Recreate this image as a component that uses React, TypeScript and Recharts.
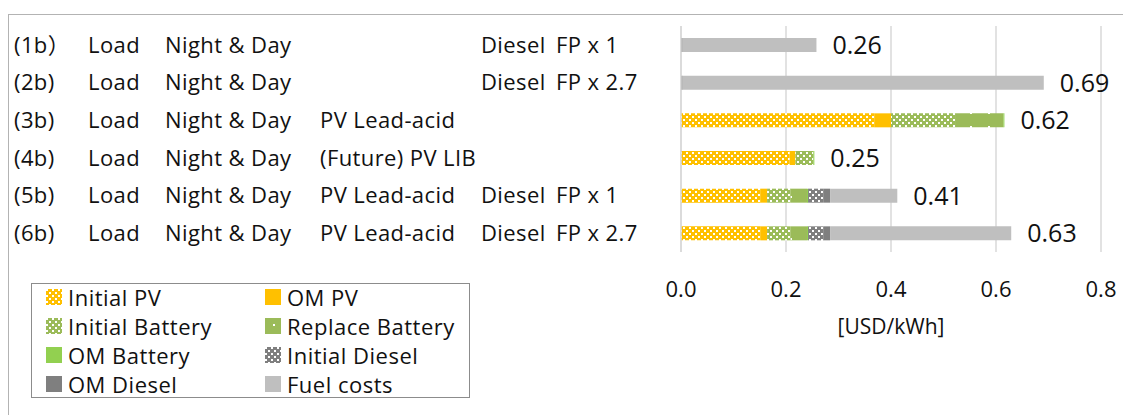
import { Bar, BarChart, CartesianGrid, Label, LabelList, XAxis, YAxis } from "recharts";

// row labels, one array per label column
const caseIds = ["(1b）", "(2b)", "(3b)", "(4b)", "(5b)", "(6b)"];
const loadLabels = ["Load", "Load", "Load", "Load", "Load", "Load"];
const periodLabels = ["Night & Day", "Night & Day", "Night & Day", "Night & Day", "Night & Day", "Night & Day"];
const systemLabels = ["", "", "PV Lead-acid", "(Future) PV LIB", "PV Lead-acid", "PV Lead-acid"];
const generatorLabels = ["Diesel", "Diesel", "", "", "Diesel", "Diesel"];
const fuelPriceLabels = ["FP x 1", "FP x 2.7", "", "", "FP x 1", "FP x 2.7"];

// cost components [USD/kWh]
const initialPV = [0, 0, 0.368, 0.207, 0.152, 0.152];
const omPV = [0, 0, 0.032, 0.011, 0.012, 0.012];
const initialBattery = [0, 0, 0.122, 0.034, 0.045, 0.045];
const replaceBattery = [0, 0, 0.092, 0, 0.031, 0.031];
const omBattery = [0, 0, 0.002, 0.002, 0.002, 0.002];
const initialDiesel = [0, 0, 0, 0, 0.03, 0.03];
const omDiesel = [0.003, 0.003, 0, 0, 0.012, 0.012];
const fuelCosts = [0.255, 0.688, 0, 0, 0.128, 0.345];

const xTicks = [0, 0.2, 0.4, 0.6, 0.8];

const series = [
  { key: "initialPV", name: "Initial PV", fill: "url(#pat-pv)", values: initialPV },
  { key: "omPV", name: "OM PV", fill: "#FFC000", values: omPV },
  { key: "initialBattery", name: "Initial Battery", fill: "url(#pat-bat)", values: initialBattery },
  { key: "replaceBattery", name: "Replace Battery", fill: "url(#pat-rep)", values: replaceBattery },
  { key: "omBattery", name: "OM Battery", fill: "#92D050", values: omBattery },
  { key: "initialDiesel", name: "Initial Diesel", fill: "url(#pat-dsl)", values: initialDiesel },
  { key: "omDiesel", name: "OM Diesel", fill: "#7F7F7F", values: omDiesel },
  { key: "fuelCosts", name: "Fuel costs", fill: "#BFBFBF", values: fuelCosts },
];

const rows = caseIds.map((id, i) => {
  const row: Record<string, any> = { id };
  let total = 0;
  let last = "";
  series.forEach((s) => {
    row[s.key] = s.values[i];
    total += s.values[i];
    if (s.values[i] > 0) last = s.key;
  });
  row.total = total;
  row.lastKey = last;
  return row;
});

const FONT = "'Open Sans', 'Noto Sans CJK JP', sans-serif";
const INK = "#111";

// x positions of the label columns (chart coords)
const COLS = [6, 80, 157, 312, 473, 548];

function CategoryTick(props: any) {
  const { y, payload } = props;
  const i = payload.index;
  const parts = [caseIds[i], loadLabels[i], periodLabels[i], systemLabels[i], generatorLabels[i], fuelPriceLabels[i]];
  return (
    <g>
      {parts.map((p, k) =>
        p ? (
          <text
            key={k}
            x={COLS[k]}
            y={y}
            dy="0.36em"
            fontSize={22}
            letterSpacing={0.4}
            fill={INK}
            fontFamily={FONT}
          >
            {p}
          </text>
        ) : null
      )}
    </g>
  );
}

// total label drawn after the last non-zero segment of each row
function makeTotalLabel(seriesKey: string) {
  return function TotalLabel(props: any) {
    const { x, y, width, height, value } = props;
    const row = rows.find((r) => r.id === value);
    if (!row || row.lastKey !== seriesKey) return null;
    return (
      <text
        x={Number(x) + Number(width) + 16}
        y={Number(y) + Number(height) / 2}
        dy="0.36em"
        fontSize={25}
        fill={INK}
        fontFamily={FONT}
      >
        {row.total.toFixed(2)}
      </text>
    );
  };
}

function dotted(id: string, base: string) {
  return (
    <pattern id={id} width={6} height={6} patternUnits="userSpaceOnUse">
      <rect width={6} height={6} fill={base} />
      <rect x={0} y={0} width={2} height={2} fill="#fff" />
      <rect x={3} y={3} width={2} height={2} fill="#fff" />
    </pattern>
  );
}

function Swatch({ fill }: { fill: string }) {
  return (
    <svg width={16} height={16} style={{ display: "block" }}>
      <rect width={16} height={16} fill={fill} />
    </svg>
  );
}

export default function App() {
  return (
    <div style={{ position: "relative", width: 1123, height: 407, fontFamily: FONT, overflow: "hidden" }}>
      <svg width={0} height={0} style={{ position: "absolute" }}>
        <defs>
          {dotted("pat-pv", "#FFC000")}
          {dotted("pat-bat", "#9BBB59")}
          {dotted("pat-dsl", "#7F7F7F")}
          <pattern id="pat-rep" width={18} height={14} patternUnits="userSpaceOnUse">
            <rect width={18} height={14} fill="#9BBB59" />
            <rect x={8} y={6} width={2} height={2} fill="#fff" />
          </pattern>
        </defs>
      </svg>

      <div
        style={{
          position: "absolute",
          left: 0,
          top: 6,
          right: -4,
          bottom: -4,
          borderTop: "1.5px solid #b3b3b3",
          borderLeft: "1.5px solid #b3b3b3",
        }}
      />

      <div style={{ position: "absolute", left: 0, top: 0 }}>
        <BarChart
          width={1123}
          height={407}
          data={rows}
          layout="vertical"
          barSize={14}
          margin={{ top: 18, right: 30, left: 0, bottom: 73 }}
        >
          <CartesianGrid horizontal={false} stroke="#d9d9d9" strokeWidth={1.5} />
          <XAxis
            type="number"
            domain={[0, 0.8]}
            ticks={xTicks}
            tickFormatter={(v: number) => v.toFixed(1)}
            axisLine={false}
            tickLine={false}
            tickMargin={23}
            height={90}
            tick={{ fontSize: 22, fill: INK, fontFamily: FONT }}
          >
            <Label
              value="[USD/kWh]"
              position="insideBottom"
              offset={8}
              style={{ fontSize: 21, fill: INK, fontFamily: FONT }}
            />
          </XAxis>
          <YAxis
            type="category"
            dataKey="id"
            width={673}
            interval={0}
            tickLine={false}
            axisLine={{ stroke: "#d9d9d9", strokeWidth: 1.5 }}
            tick={<CategoryTick />}
          />
          {series.map((s) => {
            const TotalLabel = makeTotalLabel(s.key);
            return (
              <Bar key={s.key} dataKey={s.key} name={s.name} stackId="a" fill={s.fill} isAnimationActive={false}>
                <LabelList dataKey="id" content={<TotalLabel />} />
              </Bar>
            );
          })}
        </BarChart>
      </div>

      <div
        style={{
          position: "absolute",
          left: 23,
          top: 275,
          width: 437,
          height: 113,
          border: "1.5px solid #8c8c8c",
        }}
      >
        {series.map((s, k) => (
          <div
            key={s.key}
            style={{
              position: "absolute",
              left: k % 2 === 0 ? 14 : 233,
              top: Math.floor(k / 2) * 29 - 2,
              height: 30,
              display: "flex",
              alignItems: "center",
              gap: 6,
              fontSize: 22,
              letterSpacing: 0.5,
              color: INK,
              whiteSpace: "nowrap",
            }}
          >
            <Swatch fill={s.fill} />
            <span>{s.name}</span>
          </div>
        ))}
      </div>
    </div>
  );
}
